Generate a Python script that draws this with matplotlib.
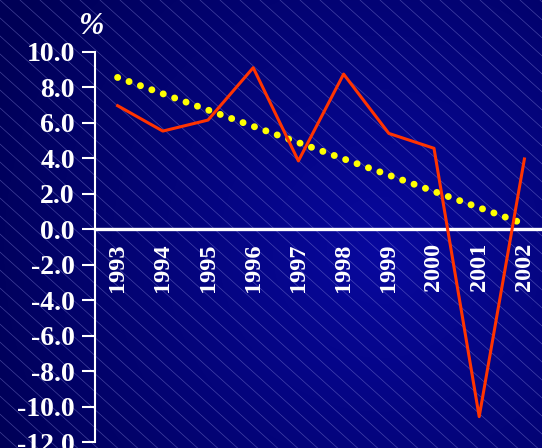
import numpy as np
import matplotlib
matplotlib.use("Agg")
import matplotlib.pyplot as plt

years = [1993, 1994, 1995, 1996, 1997, 1998, 1999, 2000, 2001, 2002]
growth = [6.96, 5.53, 6.15, 9.1, 3.85, 8.74, 5.4, 4.56, -10.55, 3.96]
trend_years = [1993, 2002]
trend_values = [8.55, 0.3]
y_ticks = [-12, -10, -8, -6, -4, -2, 0, 2, 4, 6, 8, 10]

W, H = 542, 448
fig = plt.figure(figsize=(W / 100, H / 100), dpi=100)

# background: dark blue gradient with thin diagonal lines
bg = fig.add_axes([0, 0, 1, 1])
bg.axis("off")
gx, gy = np.meshgrid(np.arange(W), np.arange(H))
d = np.hypot(gx - 380, gy - 250) / 430.0
d = np.clip(d, 0, 1)
c_in = np.array([8, 8, 158]) / 255.0
c_out = np.array([0, 0, 86]) / 255.0
img = c_in[None, None, :] * (1 - d[..., None]) + c_out[None, None, :] * d[..., None]
bg.imshow(img, extent=(0, W, H, 0), aspect="auto", interpolation="bilinear")
ang = np.tan(np.radians(42))
for x0 in range(-600, W + 20, 20):
    bg.plot([x0, x0 + 1200], [0, 1200 * ang], color="#9090e0", lw=0.5, alpha=0.45)
bg.set_xlim(0, W)
bg.set_ylim(H, 0)

top_px, bot_px = 51.7, 442.4
ax = fig.add_axes([95 / W, (H - bot_px) / H, 452 / W, (bot_px - top_px) / H])
ax.patch.set_alpha(0)

ax.plot(trend_years, trend_values, color="#ffff00", lw=5.0,
        dashes=(0.01, 1.735), dash_capstyle="round", zorder=3)
ax.plot(years, growth, color="#ff3300", lw=2.2, zorder=4)

ax.set_xlim(1992.5, 2002.5)
ax.set_ylim(-12, 10)

for s in ["top", "right"]:
    ax.spines[s].set_visible(False)
ax.spines["left"].set_color("white")
ax.spines["left"].set_linewidth(1.5)
ax.spines["bottom"].set_position(("data", 0))
ax.spines["bottom"].set_color("white")
ax.spines["bottom"].set_linewidth(2.4)
ax.spines["bottom"].set_zorder(2)

font = dict(family="Liberation Serif", weight="bold", color="white")
ax.set_yticks(y_ticks)
ax.set_yticklabels(["%.1f" % v for v in y_ticks], fontsize=20, **font)
ax.tick_params(axis="y", colors="white", length=9.5, width=1.5, pad=5)
ax.set_xticks(years)
ax.set_xticklabels([str(y) for y in years], rotation=90, fontsize=17.5, **font)
ax.tick_params(axis="x", length=0, pad=10)

fig.text(91 / W, 1 - 27 / H, "%", fontsize=22, style="italic", ha="center",
         va="center", **font)

fig.savefig("out.png", dpi=100)
